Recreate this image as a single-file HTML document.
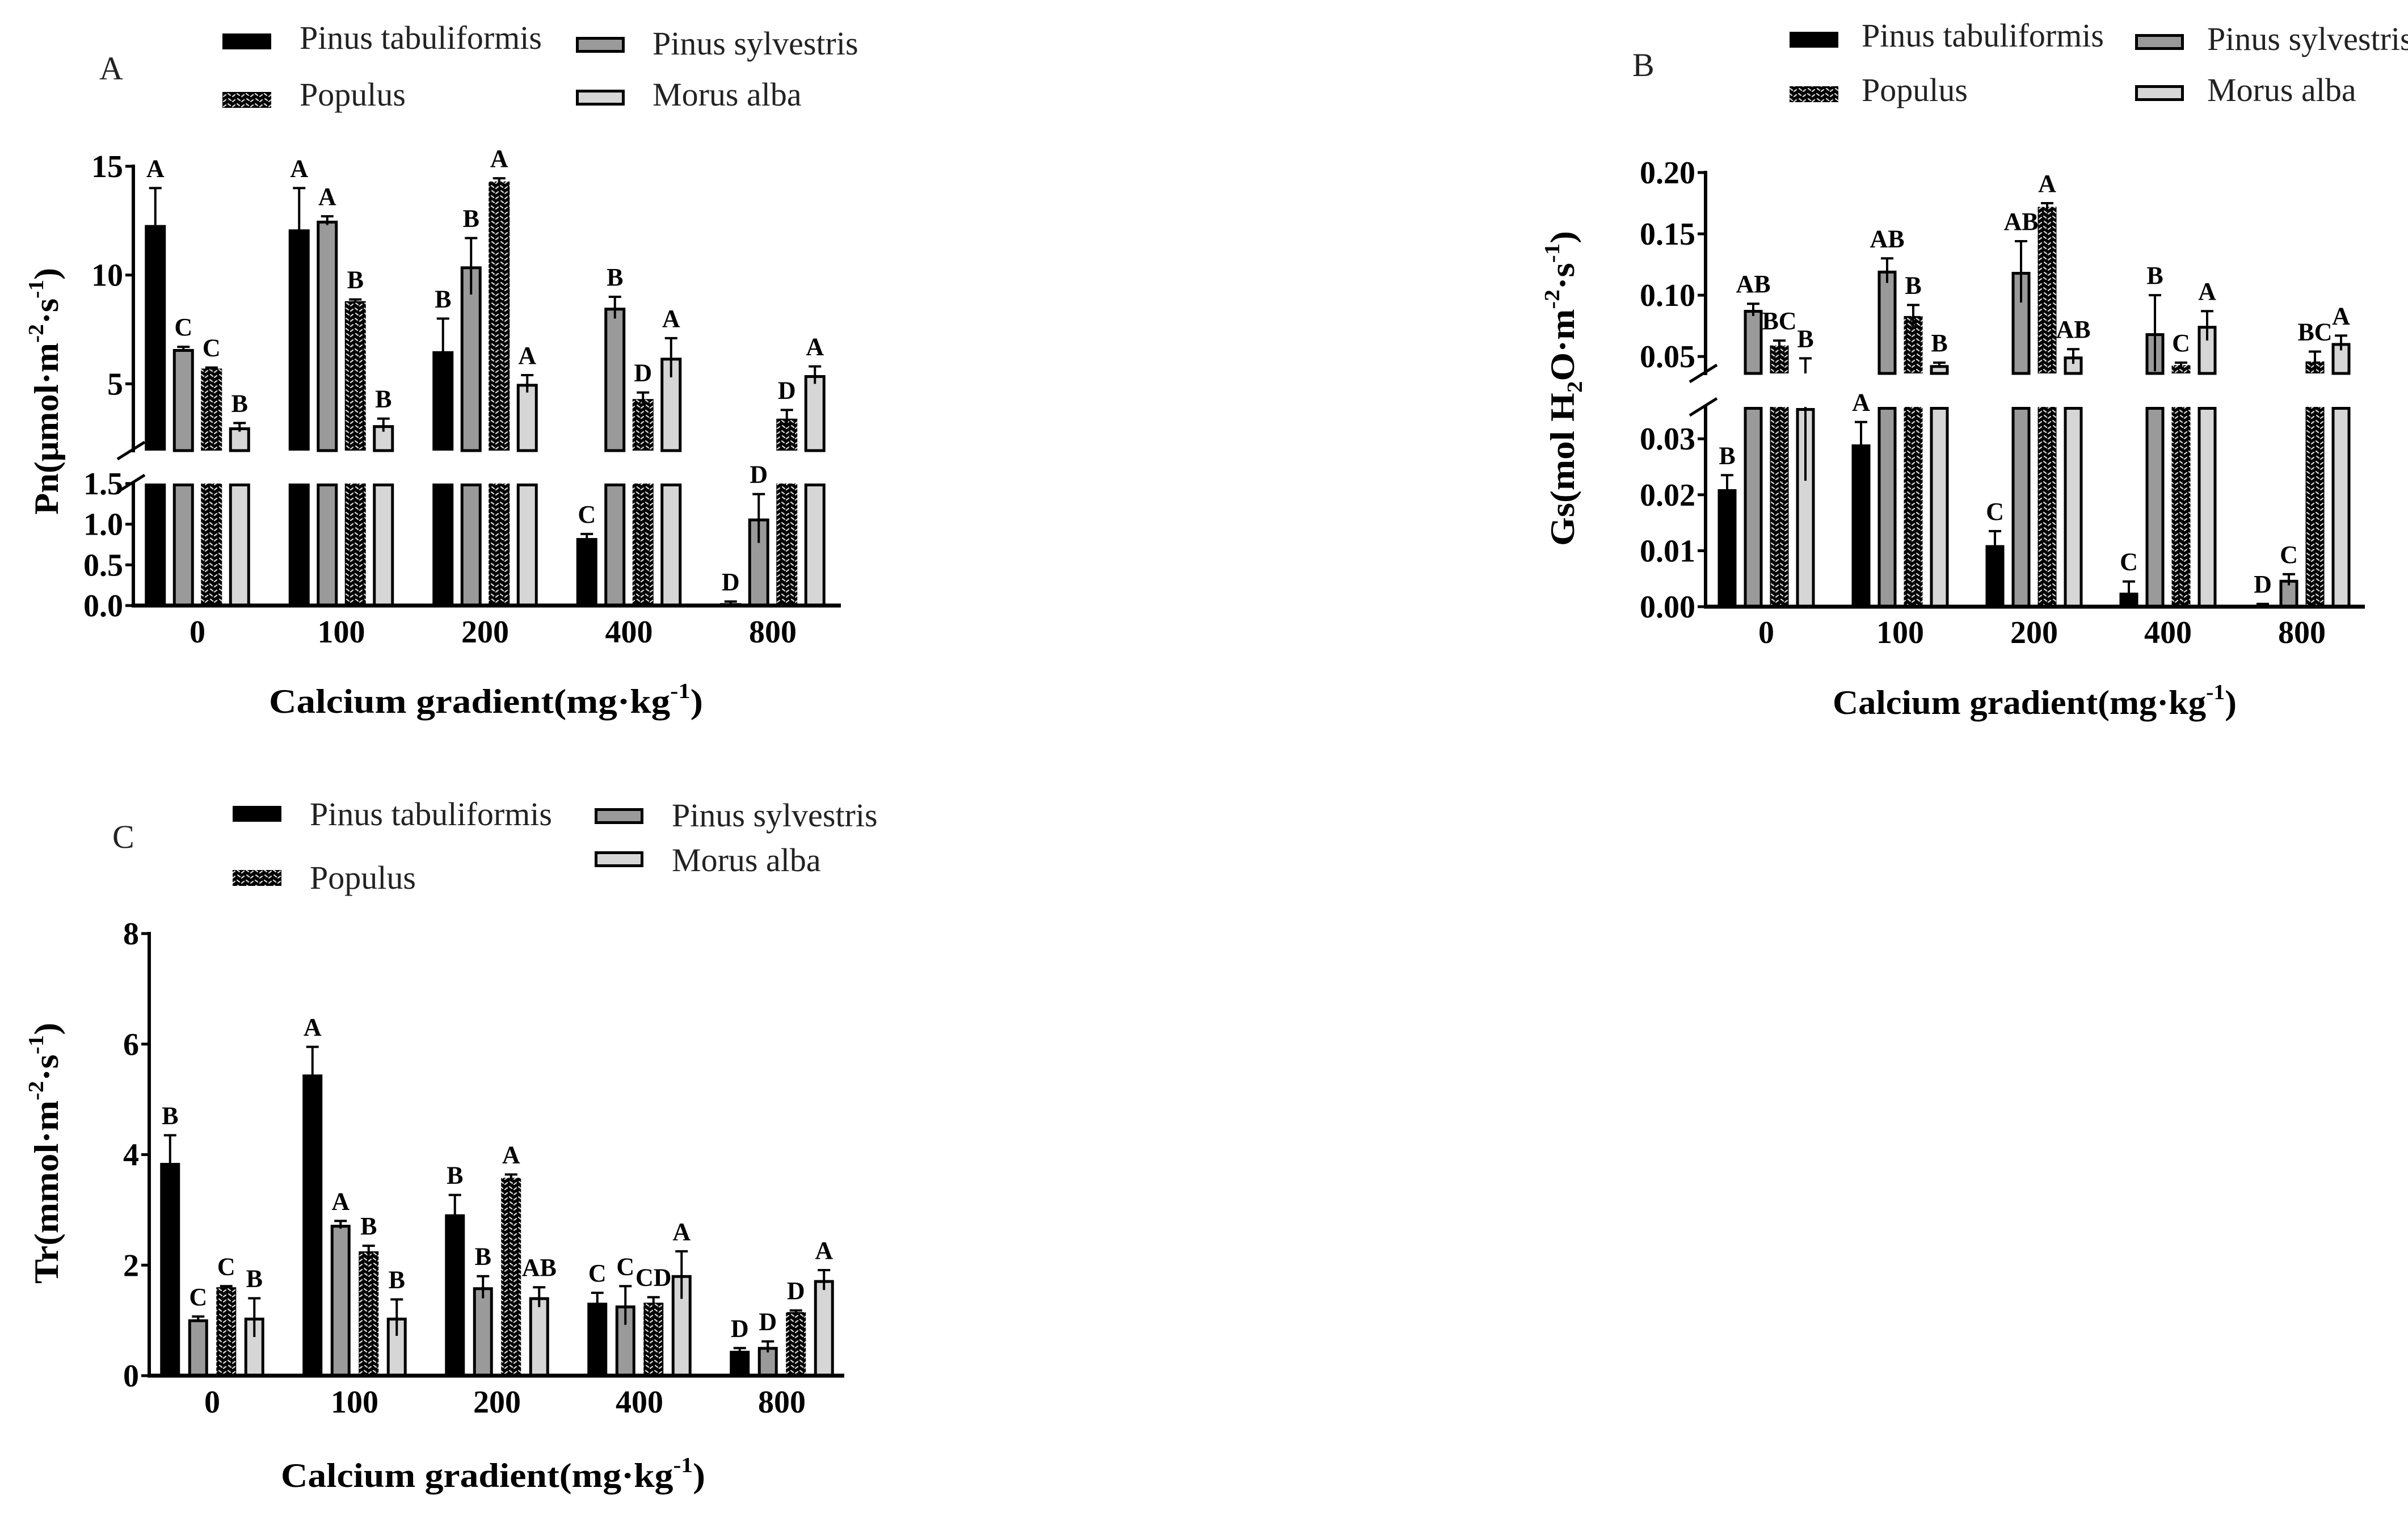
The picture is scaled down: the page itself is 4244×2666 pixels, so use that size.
<!DOCTYPE html>
<html><head><meta charset="utf-8">
<style>
html,body{margin:0;padding:0;background:#fff;}
svg{display:block;}
text{font-family:"Liberation Serif",serif;}
.tk{font-weight:bold;font-size:56px;}
.lt{font-weight:bold;font-size:44px;}
.ttl{font-weight:bold;font-size:60px;}
.lg{font-size:58px;fill:#222;}
.pl{font-size:58px;fill:#222;}
</style></head>
<body>
<svg id="fig" xmlns="http://www.w3.org/2000/svg" width="4244" height="2666" viewBox="0 0 4244 2666">
<defs>
<pattern id="pop" patternUnits="userSpaceOnUse" width="16" height="18">
<rect width="16" height="18" fill="#000"/>
<path d="M2 3 l4 3 M10 8 l4 -3 M3 12 l4 3 M10 17 l4 -3" stroke="#ddd" stroke-width="2.2" stroke-linecap="round"/>
</pattern>
</defs>
</svg>
<script>
const categories=["0","100","200","400","800"];
const seriesNames=["Pinus tabuliformis","Pinus sylvestris","Populus","Morus alba"];
// Panel A: Pn
const pnTab=[12.3,12.1,6.5,0.83,0.03];
const pnSyl=[6.6,12.5,10.4,8.5,1.07];
const pnPop=[5.7,8.8,14.3,4.3,3.4];
const pnMor=[3.0,3.1,5.0,6.2,5.4];
const pnTabErr=[1.7,1.9,1.5,0.05,0.02];
const pnSylErr=[0.1,0.2,1.3,0.5,0.3];
const pnPopErr=[0.05,0.08,0.15,0.3,0.4];
const pnMorErr=[0.2,0.3,0.4,0.9,0.4];
const pnTabLet=["A","A","B","C","D"];
const pnSylLet=["C","A","B","B","D"];
const pnPopLet=["C","B","A","D","D"];
const pnMorLet=["B","B","A","A","A"];
const pnTicksLow=["0.0","0.5","1.0","1.5"];
const pnTicksUp=["5","10","15"];
// Panel B: Gs
const gsTab=[0.021,0.029,0.011,0.0025,0.0003];
const gsSyl=[0.088,0.12,0.119,0.069,0.0048];
const gsPop=[0.059,0.083,0.172,0.043,0.046];
const gsMor=[0.0355,0.043,0.050,0.075,0.061];
const gsTabErr=[0.0025,0.004,0.0025,0.002,0.0002];
const gsSylErr=[0.005,0.01,0.025,0.031,0.001];
const gsPopErr=[0.004,0.009,0.003,0.002,0.008];
const gsMorErr=[0.013,0.002,0.006,0.012,0.006];
const gsTabLet=["B","A","C","C","D"];
const gsSylLet=["AB","AB","AB","B","C"];
const gsPopLet=["BC","B","A","C","BC"];
const gsMorLet=["B","B","AB","A","A"];
const gsTicksLow=["0.00","0.01","0.02","0.03"];
const gsTicksUp=["0.05","0.10","0.15","0.20"];
// Panel C: Tr
const trTab=[3.85,5.45,2.92,1.32,0.45];
const trSyl=[1.02,2.73,1.6,1.27,0.52];
const trPop=[1.6,2.25,3.58,1.32,1.15];
const trMor=[1.05,1.05,1.42,1.82,1.73];
const trTabErr=[0.5,0.5,0.35,0.18,0.05];
const trSylErr=[0.05,0.07,0.2,0.35,0.1];
const trPopErr=[0.02,0.1,0.06,0.1,0.03];
const trMorErr=[0.35,0.33,0.18,0.43,0.18];
const trTabLet=["B","A","B","C","D"];
const trSylLet=["C","A","B","C","D"];
const trPopLet=["C","B","A","CD","D"];
const trMorLet=["B","B","AB","A","A"];
const trTicks=["0","2","4","6","8"];

const NS="http://www.w3.org/2000/svg";
const svg=document.getElementById('fig');
function mk(tag,parent,attrs){const e=document.createElementNS(NS,tag);for(const k in attrs)e.setAttribute(k,attrs[k]);parent.appendChild(e);return e;}
const fills=["#000","#9a9a9a","url(#pop)","#d6d6d6"];
const strokes=["none","#000","none","#000"];

function drawPanel(cfg,vals,errs,lets){
  const g=mk('g',svg,{});
  
  
  const segs=cfg.segs;
  function segOf(v){for(const s of segs){if(v>=s.lo-1e-9&&v<=s.hi+1e-9)return s;}return null;}
  function ym(s,v){return s.yLo-(v-s.lo)/(s.hi-s.lo)*(s.yLo-s.yHi);}
  function ytop(v){let s=segOf(v);if(s)return ym(s,v);
    for(let i=segs.length-1;i>=0;i--){if(v>segs[i].hi)return segs[i].yHi;}return segs[0].yLo;}
  for(let c=0;c<categories.length;c++){
    const gx=cfg.gx0+c*cfg.step;
    for(let k=0;k<4;k++){
      const v=vals[k][c],e=errs[k][c];
      const cx=gx+(k-1.5)*cfg.pitch;
      const x=cx-cfg.bw/2;
      for(const s of segs){
        if(v<=s.lo)continue;
        const top=ym(s,Math.min(v,s.hi)),bot=s.yLo;
        const sw=strokes[k]==="none"?0:5;
        const r=mk('rect',g,{x:x+sw/2,y:top+sw/2,width:cfg.bw-sw,height:Math.max(0,bot-top-sw/2),fill:fills[k],stroke:strokes[k],'stroke-width':sw});
        
        
      }
      const lo=v-e,hi=v+e;
      for(const s of segs){
        const a=Math.max(lo,s.lo),b=Math.min(hi,s.hi);
        if(b>a){const l=mk('line',g,{x1:cx,x2:cx,y1:ym(s,a),y2:ym(s,b),stroke:'#000','stroke-width':4});
          
          }
      }
      const ty=ytop(hi);
      const cap=mk('line',g,{x1:cx-11,x2:cx+11,y1:ty,y2:ty,stroke:'#000','stroke-width':4});
      
      
      const t=mk('text',g,{x:cx,y:ty-20,'text-anchor':'middle',class:'lt'});
      t.textContent=lets[k][c];
      
      
    }
    const xl=mk('text',g,{x:gx,y:cfg.xLabY,'text-anchor':'middle',class:'tk'});
    xl.textContent=categories[c];
    
    
  }
  const base=segs[0].yLo;
  const xa=mk('line',g,{x1:cfg.ax-3,x2:cfg.xEnd,y1:base,y2:base,stroke:'#000','stroke-width':7});
  
  
  segs.forEach((s,i)=>{
    const ya=mk('line',g,{x1:cfg.ax,x2:cfg.ax,y1:s.yHi-3,y2:s.yLo+3,stroke:'#000','stroke-width':6});
    
    
    s.ticks.forEach((lab,j)=>{
      const v=s.tickVals[j],y=ym(s,v);
      const tl=mk('line',g,{x1:cfg.ax-14,x2:cfg.ax,y1:y,y2:y,stroke:'#000','stroke-width':5});
      
      
      const tt=mk('text',g,{x:cfg.ax-18,y:y+19,'text-anchor':'end',class:'tk'});
      tt.textContent=lab;
      
      
    });
  });
  if(segs.length>1){
    [segs[1].yLo,segs[0].yHi].forEach(y=>{
      const b=mk('line',g,{x1:cfg.ax-28,x2:cfg.ax+20,y1:y+15,y2:y-15,stroke:'#000','stroke-width':5});
      
      
    });
  }
}

drawPanel({name:'panel-a-chart',ax:235,xEnd:1482,gx0:348,step:253.5,pitch:49.5,bw:37,xLabY:1132,
  segs:[{lo:0,hi:1.5,yLo:1067,yHi:852,ticks:pnTicksLow,tickVals:[0,0.5,1.0,1.5]},
        {lo:1.93,hi:15,yLo:794,yHi:293,ticks:pnTicksUp,tickVals:[5,10,15]}]},
  [pnTab,pnSyl,pnPop,pnMor],[pnTabErr,pnSylErr,pnPopErr,pnMorErr],[pnTabLet,pnSylLet,pnPopLet,pnMorLet]);
drawPanel({name:'panel-b-chart',ax:3006,xEnd:4168,gx0:3113,step:236,pitch:46,bw:33,xLabY:1133,
  segs:[{lo:0,hi:0.0357,yLo:1069,yHi:717,ticks:gsTicksLow,tickVals:[0,0.01,0.02,0.03]},
        {lo:0.0362,hi:0.2,yLo:658,yHi:304,ticks:gsTicksUp,tickVals:[0.05,0.10,0.15,0.20]}]},
  [gsTab,gsSyl,gsPop,gsMor],[gsTabErr,gsSylErr,gsPopErr,gsMorErr],[gsTabLet,gsSylLet,gsPopLet,gsMorLet]);
drawPanel({name:'panel-c-chart',ax:263,xEnd:1488,gx0:374,step:251,pitch:49.5,bw:35,xLabY:2489,
  segs:[{lo:0,hi:8,yLo:2424,yHi:1645,ticks:trTicks,tickVals:[0,2,4,6,8]}]},
  [trTab,trSyl,trPop,trMor],[trTabErr,trSylErr,trPopErr,trMorErr],[trTabLet,trSylLet,trPopLet,trMorLet]);

function legend(pfx,items){
  items.forEach((it,k)=>{
    const sw=mk('rect',svg,{x:it.sx+(k%2?2.5:0),y:it.sy+(k%2?2.5:0),width:86-(k%2?5:0),height:28-(k%2?5:0),fill:fills[it.k],stroke:strokes[it.k],'stroke-width':strokes[it.k]==="none"?0:5});
    
    
    const t=mk('text',svg,{x:it.tx,y:it.ty,class:'lg'});
    t.textContent=seriesNames[it.k];
    
    
  });
}
legend('panel-a',[{k:0,sx:392,sy:59,tx:528,ty:86},{k:1,sx:1015,sy:65,tx:1150,ty:96},{k:2,sx:392,sy:162,tx:528,ty:186},{k:3,sx:1015,sy:158,tx:1150,ty:186}]);
legend('panel-b',[{k:0,sx:3154,sy:56,tx:3281,ty:82},{k:1,sx:3763,sy:60,tx:3890,ty:88},{k:2,sx:3154,sy:152,tx:3281,ty:178},{k:3,sx:3763,sy:150,tx:3890,ty:178}]);
legend('panel-c',[{k:0,sx:410,sy:1420,tx:546,ty:1454},{k:1,sx:1048,sy:1424,tx:1184,ty:1456},{k:2,sx:410,sy:1533,tx:546,ty:1566},{k:3,sx:1048,sy:1500,tx:1184,ty:1535}]);
</script>
<svg style="position:absolute;left:0;top:0" width="4244" height="2666" xmlns="http://www.w3.org/2000/svg">
<text x="175" y="140" class="pl">A</text>
<text x="2877" y="134" class="pl">B</text>
<text x="198" y="1494" class="pl">C</text>
<text x="474" y="1256" class="ttl" textLength="765" lengthAdjust="spacingAndGlyphs">Calcium gradient(mg·kg<tspan dy="-26" font-size="38">-1</tspan><tspan dy="26">)</tspan></text>
<text x="3230" y="1258" class="ttl" textLength="712" lengthAdjust="spacingAndGlyphs">Calcium gradient(mg·kg<tspan dy="-26" font-size="38">-1</tspan><tspan dy="26">)</tspan></text>
<text x="495" y="2620" class="ttl" textLength="748" lengthAdjust="spacingAndGlyphs">Calcium gradient(mg·kg<tspan dy="-26" font-size="38">-1</tspan><tspan dy="26">)</tspan></text>
<text transform="translate(102,907) rotate(-90)" class="ttl" textLength="435" lengthAdjust="spacingAndGlyphs">Pn(μmol·m<tspan dy="-26" font-size="38">-2</tspan><tspan dy="26">·s</tspan><tspan dy="-26" font-size="38">-1</tspan><tspan dy="26">)</tspan></text>
<text transform="translate(2774,962) rotate(-90)" class="ttl" textLength="555" lengthAdjust="spacingAndGlyphs">Gs(mol H<tspan dy="14" font-size="38">2</tspan><tspan dy="-14">O·m</tspan><tspan dy="-26" font-size="38">-2</tspan><tspan dy="26">·s</tspan><tspan dy="-26" font-size="38">-1</tspan><tspan dy="26">)</tspan></text>
<text transform="translate(102,2262) rotate(-90)" class="ttl" textLength="460" lengthAdjust="spacingAndGlyphs">Tr(mmol·m<tspan dy="-26" font-size="38">-2</tspan><tspan dy="26">·s</tspan><tspan dy="-26" font-size="38">-1</tspan><tspan dy="26">)</tspan></text>
</svg>
</body></html>
